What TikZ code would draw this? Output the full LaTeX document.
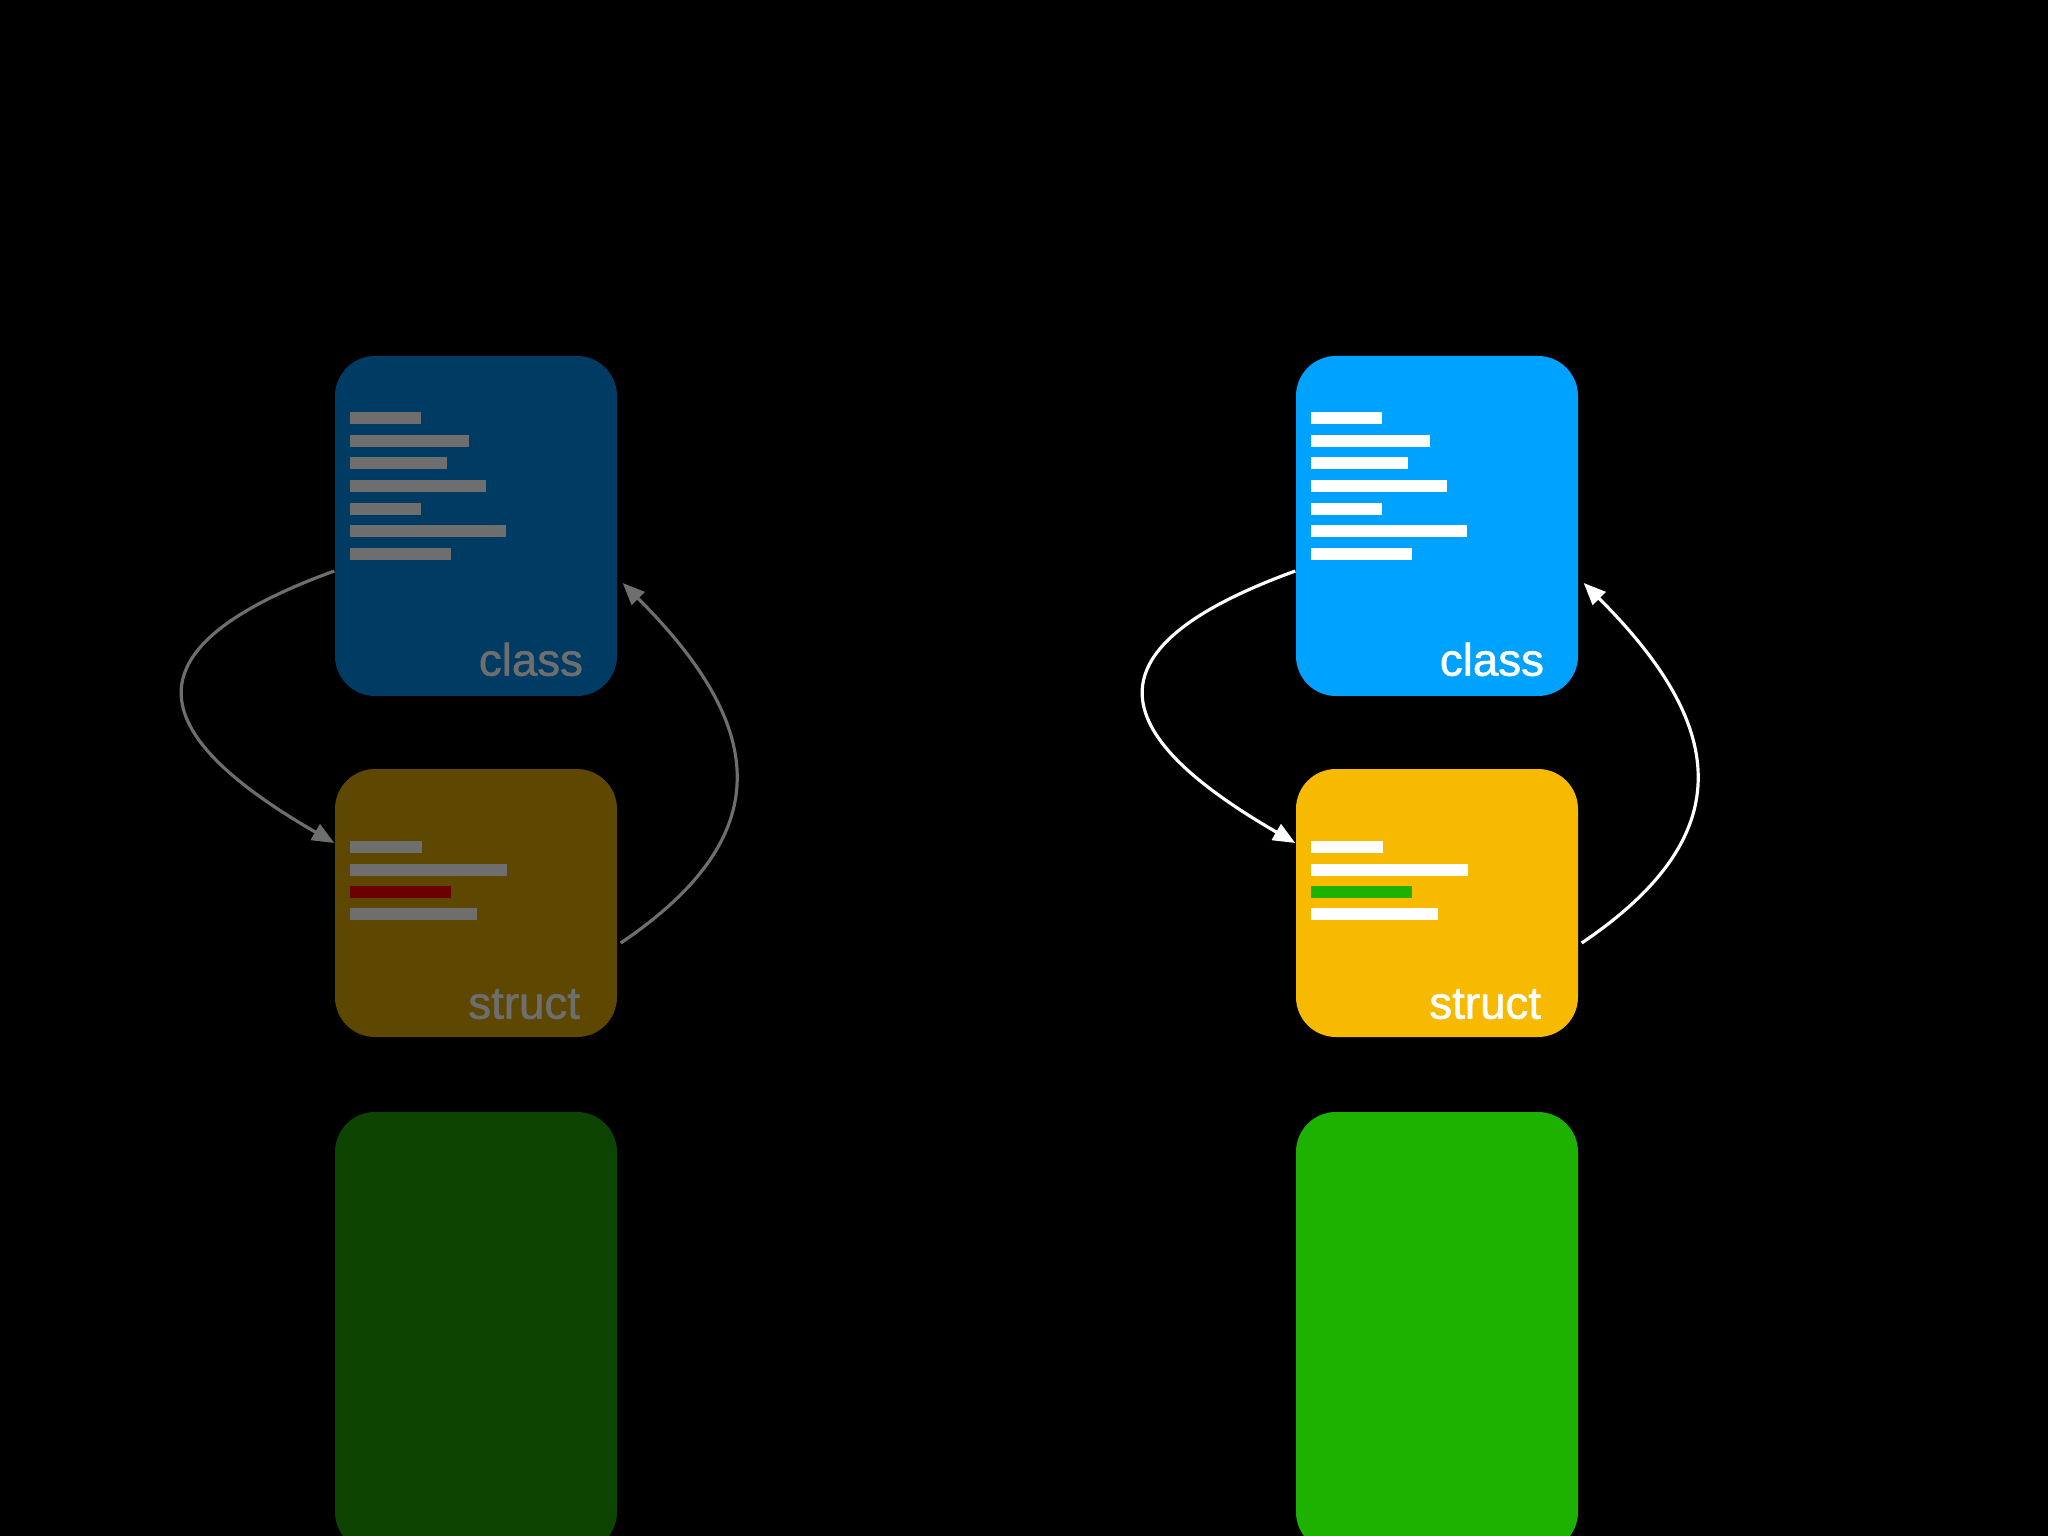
\documentclass[tikz,border=0pt]{standalone}
\usepackage{fontspec}
\setmainfont{Liberation Sans}
\newfontfamily\tagfont{Liberation Sans}[FakeBold=1.2]
\usetikzlibrary{arrows.meta, positioning, calc}
\definecolor{clsblue}{HTML}{00A2FF}
\definecolor{strgold}{HTML}{F8BA00}
\definecolor{valgreen}{HTML}{1DB100}
\definecolor{dimblue}{HTML}{003B63}
\definecolor{dimgold}{HTML}{5E4700}
\definecolor{dimgreen}{HTML}{0D4402}
\definecolor{dimgray}{HTML}{6E6E6E}
\definecolor{dimred}{HTML}{6C0000}
\tikzset{
    card/.style={rounded corners=0.4cm, inner sep=0pt, minimum width=2.82cm},
    clscard/.style={card, minimum height=3.40cm},
    strcard/.style={card, minimum height=2.68cm},
    valcard/.style={card, minimum height=4.40cm},
    tag/.style={anchor=base east, inner sep=0pt, font=\tagfont\fontsize{13}{15}\selectfont},
    link/.style={-{Triangle[length=2.2mm, width=1.8mm]}, line width=0.9pt},
}
\begin{document}
\begin{tikzpicture}
        \useasboundingbox (0,0) rectangle (20.48,-15.36);
        \fill[black] (0,0) rectangle (20.48,-15.36);
        \clip (0,0) rectangle (20.48,-15.36);

        % Left side (dimmed)
        \node[clscard, fill=dimblue] (CL) at (4.76,-5.26) {};
        \node[strcard, fill=dimgold] (SL) at (4.76,-9.03) {};
        \node[valcard, fill=dimgreen] (VL) at (4.76,-13.32) {};

        \foreach \i/\w in {0/0.71, 1/1.19, 2/0.97, 3/1.36, 4/0.71, 5/1.56, 6/1.01} {
            \fill[dimgray] ($(CL.north west)+(0.16,-0.57-\i*0.226)$) rectangle ++(\w,-0.12);
        }
        \foreach \i/\w/\c in {0/0.72/dimgray, 1/1.57/dimgray, 2/1.01/dimred, 3/1.27/dimgray} {
            \fill[\c] ($(SL.north west)+(0.16,-0.73-\i*0.223)$) rectangle ++(\w,-0.12);
        }

        \node[tag, text=dimgray] (tCL) at ($(CL.south east)+(-0.34,0.21)$) {class};
        \node[tag, text=dimgray] (tSL) at ($(SL.south east)+(-0.37,0.19)$) {struct};

        \draw[link, dimgray] ([yshift=-0.45cm]CL.west) to[out=200, in=150, looseness=2.1] ([yshift=0.60cm]SL.west);
        \draw[link, dimgray] ([xshift=0.03cm, yshift=-0.40cm]SL.east) to[out=34, in=-45, looseness=1.4] ([xshift=0.05cm, yshift=-0.57cm]CL.east);

        % Right side
        \node[clscard, fill=clsblue] (CR) at (14.37,-5.26) {};
        \node[strcard, fill=strgold] (SR) at (14.37,-9.03) {};
        \node[valcard, fill=valgreen] (VR) at (14.37,-13.32) {};

        \foreach \i/\w in {0/0.71, 1/1.19, 2/0.97, 3/1.36, 4/0.71, 5/1.56, 6/1.01} {
            \fill[white] ($(CR.north west)+(0.16,-0.57-\i*0.226)$) rectangle ++(\w,-0.12);
        }
        \foreach \i/\w/\c in {0/0.72/white, 1/1.57/white, 2/1.01/valgreen, 3/1.27/white} {
            \fill[\c] ($(SR.north west)+(0.16,-0.73-\i*0.223)$) rectangle ++(\w,-0.12);
        }

        \node[tag, text=white] (tCR) at ($(CR.south east)+(-0.34,0.21)$) {class};
        \node[tag, text=white] (tSR) at ($(SR.south east)+(-0.37,0.19)$) {struct};

        \draw[link, white] ([yshift=-0.45cm]CR.west) to[out=200, in=150, looseness=2.1] ([yshift=0.60cm]SR.west);
        \draw[link, white] ([xshift=0.03cm, yshift=-0.40cm]SR.east) to[out=34, in=-45, looseness=1.4] ([xshift=0.05cm, yshift=-0.57cm]CR.east);
\end{tikzpicture}
\end{document}
